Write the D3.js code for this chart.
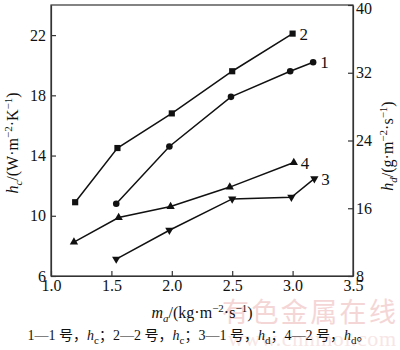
<!DOCTYPE html>
<html>
<head>
<meta charset="utf-8">
<script src="https://cdn.jsdelivr.net/npm/d3@7"></script>
<style>
  html, body { margin: 0; padding: 0; background: #fff; }
  svg { display: block; }
  svg text { font-family: "Liberation Serif", "DejaVu Serif", serif; fill: #111; }
</style>
</head>
<body>
<svg id="chart" width="400" height="350"></svg>
<script>
// Air mass flux m_a (kg·m^-2·s^-1) and the measured coefficients
const xTicks = [1.0, 1.5, 2.0, 2.5, 3.0, 3.5];
const leftTicks = [6, 10, 14, 18, 22];
const rightTicks = [8, 16, 24, 32, 40];

// 1 — No.1 packing, h_c (left axis)
const s1X = [1.54, 1.98, 2.49, 2.98, 3.17];
const s1Y = [10.8, 14.6, 17.9, 19.6, 20.2];
// 2 — No.2 packing, h_c (left axis)
const s2X = [1.2, 1.55, 2.0, 2.5, 3.0];
const s2Y = [10.9, 14.5, 16.8, 19.6, 22.1];
// 3 — No.1 packing, h_d (right axis)
const s3X = [1.54, 1.98, 2.5, 2.99, 3.18];
const s3Y = [10.0, 13.4, 17.1, 17.3, 19.5];
// 4 — No.2 packing, h_d (right axis)
const s4X = [1.19, 1.56, 1.99, 2.48, 3.01];
const s4Y = [12.0, 14.9, 16.2, 18.5, 21.4];

const seriesNames = ["1", "2", "3", "4"];

const SERIF = "'Liberation Serif', 'DejaVu Serif', serif";
const svg = d3.select("#chart");
const L = 51, R = 353, T = 5, B = 276;

const x = d3.scaleLinear().domain([1.0, 3.5]).range([L, R]);
const yL = d3.scaleLinear().domain([6, 24]).range([B, T]);
const yR = d3.scaleLinear().domain([8, 40]).range([B, T]);

// site watermark behind everything
svg.append("text")
  .attr("x", 222).attr("y", 322)
  .attr("textLength", 174)
  .style("font-family", "'Noto Sans CJK SC', sans-serif")
  .style("font-size", "27px")
  .style("fill", "#f5d6d6")
  .text("有色金属在线");
svg.append("text")
  .attr("x", 228).attr("y", 346)
  .attr("textLength", 168)
  .style("font-family", SERIF)
  .style("font-size", "22px")
  .style("fill", "#f7e6e6")
  .text("www.cnnmol.com");

// frame
svg.append("rect")
  .attr("x", L).attr("y", T).attr("width", R - L).attr("height", B - T)
  .attr("fill", "none").attr("stroke", "#333").attr("stroke-width", 1.2);

function styleAxis(g) {
  g.attr("font-family", null);
  g.select(".domain").attr("stroke", "#333").attr("stroke-width", 1.2);
  g.selectAll(".tick line").attr("stroke", "#333").attr("stroke-width", 1.2);
  g.selectAll(".tick text")
    .style("font-family", SERIF)
    .style("font-size", "16px")
    .attr("fill", "#111");
}

svg.append("g").attr("transform", `translate(0,${B})`)
  .call(d3.axisBottom(x).tickValues(xTicks).tickFormat(d3.format(".1f"))
    .tickSizeInner(-5).tickSizeOuter(0).tickPadding(4))
  .call(styleAxis);

svg.append("g").attr("transform", `translate(${L},0)`)
  .call(d3.axisLeft(yL).tickValues(leftTicks)
    .tickSizeInner(-5).tickSizeOuter(0).tickPadding(5))
  .call(styleAxis);

svg.append("g").attr("transform", `translate(${R},0)`)
  .call(d3.axisRight(yR).tickValues(rightTicks)
    .tickSizeInner(-5).tickSizeOuter(0).tickPadding(3))
  .call(styleAxis)
  .call(g => g.selectAll(".tick text").filter(d => d === 40).attr("dy", "0.5em"));

// series
const series = [
  { name: seriesNames[0], xs: s1X, ys: s1Y, y: yL, sym: d3.symbolCircle, size: 34, rot: 0 },
  { name: seriesNames[1], xs: s2X, ys: s2Y, y: yL, sym: d3.symbolSquare, size: 38, rot: 0 },
  { name: seriesNames[2], xs: s3X, ys: s3Y, y: yR, sym: d3.symbolTriangle, size: 30, rot: 180 },
  { name: seriesNames[3], xs: s4X, ys: s4Y, y: yR, sym: d3.symbolTriangle, size: 30, rot: 0 }
];

series.forEach(s => {
  const pts = s.xs.map((v, i) => [v, s.ys[i]]);
  const line = d3.line().x(d => x(d[0])).y(d => s.y(d[1]));
  svg.append("path").datum(pts)
    .attr("d", line).attr("fill", "none")
    .attr("stroke", "#111").attr("stroke-width", 1.5);
  svg.selectAll(null).data(pts).enter().append("path")
    .attr("d", d3.symbol().type(s.sym).size(s.size))
    .attr("transform", d => `translate(${x(d[0])},${s.y(d[1])}) rotate(${s.rot})`)
    .attr("fill", "#111");
  const last = pts[pts.length - 1];
  svg.append("text")
    .attr("x", x(last[0]) + 7).attr("y", s.y(last[1]) + 6)
    .style("font-family", SERIF)
    .style("font-size", "17px")
    .text(s.name);
});

// rich text helper: segments of [text, kind] where kind is "", "i", "sub", "isub", "sup"
function rich(sel, segs, small) {
  let shift = 0;
  segs.forEach(([t, kind]) => {
    const ts = sel.append("tspan").text(t);
    let target = 0;
    if (kind === "sub" || kind === "isub") target = 4;
    if (kind === "sup") target = -6;
    ts.attr("dy", target - shift);
    shift = target;
    if (kind === "i" || kind === "isub") ts.style("font-style", "italic");
    if (kind === "sub" || kind === "isub" || kind === "sup") ts.style("font-size", small);
  });
  return sel;
}

// centred rich label, optionally rotated -90 around (cx, cy)
function titleAt(cx, cy, rotated, segs, size, family) {
  const g = svg.append("g");
  const t = g.append("text").attr("x", 0).attr("y", 0)
    .style("font-family", family || SERIF).style("font-size", size);
  rich(t, segs, "11px");
  const w = t.node().getComputedTextLength();
  t.attr("x", -w / 2);
  g.attr("transform", rotated
    ? `translate(${cx},${cy}) rotate(-90)`
    : `translate(${cx},${cy})`);
  return t;
}

titleAt(202, 318, false,
  [["m", "i"], ["a", "isub"], ["/(kg·m", ""], ["−2", "sup"], ["·s", ""], ["−1", "sup"], [")", ""]], "16px");
titleAt(18, 143, true,
  [["h", "i"], ["c", "isub"], ["/(W·m", ""], ["−2", "sup"], ["·K", ""], ["−1", "sup"], [")", ""]], "16px");
titleAt(393, 146, true,
  [["h", "i"], ["d", "isub"], ["/(g·m", ""], ["−2", "sup"], ["·s", ""], ["−1", "sup"], [")", ""]], "16px");

// caption
const cap = svg.append("text").attr("x", 199).attr("y", 340)
  .attr("text-anchor", "middle")
  .style("font-family", "'Liberation Serif', 'Noto Sans CJK SC', serif")
  .style("font-size", "14px");
rich(cap, [
  ["1—1 号，", ""], ["h", "i"], ["c", "sub"], ["；2—2 号，", ""], ["h", "i"], ["c", "sub"],
  ["；3—1 号，", ""], ["h", "i"], ["d", "sub"], ["；4—2 号，", ""], ["h", "i"], ["d", "sub"], ["。", ""]
], "11px");
</script>
</body>
</html>
